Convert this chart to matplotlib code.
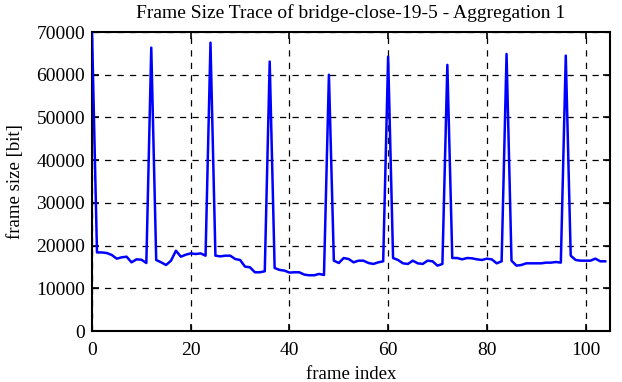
import matplotlib
matplotlib.use("Agg")
import matplotlib.pyplot as plt

title = "Frame Size Trace of bridge-close-19-5 - Aggregation 1"
xlabel = "frame index"
ylabel = "frame size [bit]"

frame_size = [
    69600, 18400, 18400, 18260, 17800, 16940, 17250, 17400, 16080, 16780,
    16700, 15930, 66360, 16630, 16080, 15460, 16470, 18800, 17400, 17870,
    18180, 18030, 18180, 17640, 67520, 17640, 17480, 17640, 17640, 16860,
    16630, 15070, 14920, 13750, 13750, 13990, 63090, 14760, 14300, 14140,
    13680, 13750, 13750, 13210, 13050, 13050, 13360, 13130, 60000, 16470,
    15930, 17090, 16860, 16080, 16470, 16470, 15930, 15700, 16080, 16320,
    64260, 17090, 16630, 15850, 15700, 16470, 15850, 15700, 16470, 16320,
    15310, 15700, 62320, 17100, 17090, 16780, 17090, 17020, 16780, 16630,
    16940, 16780, 15850, 16320, 64880, 16470, 15310, 15460, 15850, 15850,
    15850, 15850, 16010, 16010, 16160, 16010, 64490, 17640, 16630, 16470,
    16470, 16470, 16940, 16320, 16320,
]
frame_index = list(range(len(frame_size)))
xticks = [0, 20, 40, 60, 80, 100]
yticks = [0, 10000, 20000, 30000, 40000, 50000, 60000, 70000]

plt.rcParams['font.family'] = ['Liberation Serif', 'DejaVu Serif']

fig = plt.figure(figsize=(6.22, 3.82), dpi=100)
ax = fig.add_axes([0.148, 0.1335, 0.833, 0.7825])
ax.plot(frame_index, frame_size, color=(0, 0, 1), linewidth=1.8, zorder=3)
ax.set_xlim(0, 105)
ax.set_ylim(0, 70000)
ax.set_xticks(xticks)
ax.set_yticks(yticks)
ax.grid(True, color='black', linestyle=(0, (5, 5)), linewidth=0.9)
ax.tick_params(direction='in', top=True, right=True, length=5, width=1.2,
               labelsize=14, pad=5, colors='black')
ax.tick_params(axis='x', pad=8)
for s in ax.spines.values():
    s.set_linewidth(1.5)
ax.set_title(title, fontsize=14, pad=10)
ax.set_xlabel(xlabel, fontsize=13.5, labelpad=5)
ax.set_ylabel(ylabel, fontsize=13.5, labelpad=9)
fig.savefig("out.png", dpi=100)
